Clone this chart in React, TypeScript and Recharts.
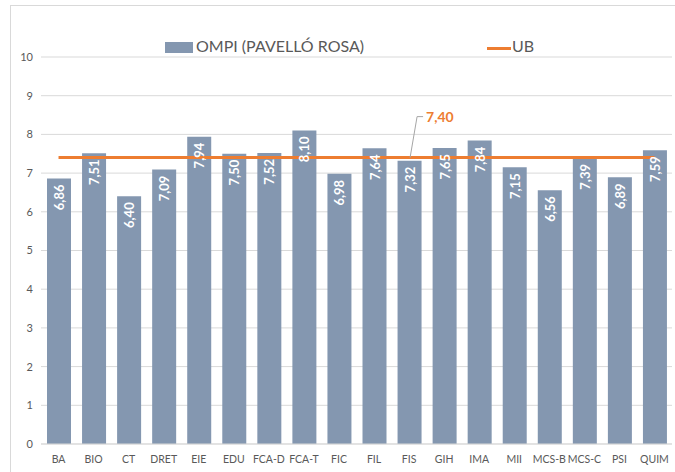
import { ComposedChart, Bar, Line, XAxis, YAxis, CartesianGrid, Legend, LabelList } from 'recharts';

const categories = ['BA', 'BIO', 'CT', 'DRET', 'EIE', 'EDU', 'FCA-D', 'FCA-T', 'FIC', 'FIL', 'FIS', 'GIH', 'IMA', 'MII', 'MCS-B', 'MCS-C', 'PSI', 'QUIM'];
const ompiValues = [6.86, 7.51, 6.4, 7.09, 7.94, 7.5, 7.52, 8.1, 6.98, 7.64, 7.32, 7.65, 7.84, 7.15, 6.56, 7.39, 6.89, 7.59];
const ubValue = 7.4;
const ubLabelIndex = 10;
const yTicks = [0, 1, 2, 3, 4, 5, 6, 7, 8, 9, 10];

const data = categories.map((name, i) => ({ name, ompi: ompiValues[i], ub: ubValue }));

const FONT = 'Lato, "Open Sans", sans-serif';
const BAR_COLOR = '#8497B0';
const LINE_COLOR = '#ED7D31';
const fmt = (v: number) => v.toFixed(2).replace('.', ',');

function BarValueLabel(props: any) {
  const { x, y, width, value } = props;
  return (
    <text
      x={0}
      y={0}
      transform={`translate(${x + width / 2},${y + 6}) rotate(-90)`}
      textAnchor="end"
      dominantBaseline="central"
      fill="#fff"
      fontSize={13}
      fontWeight={700}
      fontFamily={FONT}
    >
      {fmt(value)}
    </text>
  );
}

function UbLabel(props: any) {
  const { x, y, index, value } = props;
  if (index !== ubLabelIndex) return null;
  return (
    <g>
      <polyline
        points={`${x + 1},${y} ${x + 8},${y - 41} ${x + 14},${y - 41}`}
        fill="none"
        stroke="#A6A6A6"
        strokeWidth={1}
      />
      <text x={x + 17} y={y - 36} fill={LINE_COLOR} fontSize={14} fontWeight={700} fontFamily={FONT}>
        {fmt(value)}
      </text>
    </g>
  );
}

function LegendBox() {
  return (
    <div style={{ position: 'relative', height: 20, fontFamily: FONT, fontSize: 16, color: '#595959' }}>
      <div style={{ position: 'absolute', left: 165, top: 5, width: 28, height: 11, background: BAR_COLOR }} />
      <span style={{ position: 'absolute', left: 196, top: -1, whiteSpace: 'nowrap' }}>OMPI (PAVELLÓ ROSA)</span>
      <div style={{ position: 'absolute', left: 487, top: 10, width: 24, height: 3, background: LINE_COLOR }} />
      <span style={{ position: 'absolute', left: 512, top: -1 }}>UB</span>
    </div>
  );
}

export default function App() {
  return (
    <div style={{ position: 'absolute', left: 0, top: 0, width: 675, height: 472, overflow: 'hidden', background: '#fff' }}>
      <div style={{ position: 'absolute', left: 10, top: 5, width: 700, height: 500, border: '1px solid #D9D9D9' }} />
      <div style={{ position: 'absolute', left: 0, top: 0 }}>
        <ComposedChart width={675} height={472} data={data} margin={{ top: 37, right: 3, bottom: 0, left: 0 }}>
          <CartesianGrid vertical={false} stroke="#D9D9D9" />
          <XAxis
            dataKey="name"
            interval={0}
            height={28}
            tickLine={false}
            axisLine={{ stroke: '#D9D9D9' }}
            tickMargin={6}
            tick={{ fill: '#595959', fontSize: 10.5, fontFamily: FONT }}
          />
          <YAxis
            domain={[0, 10]}
            ticks={yTicks}
            width={41}
            axisLine={false}
            tickLine={false}
            tick={{ fill: '#595959', fontSize: 11, fontFamily: FONT }}
          />
          <Legend verticalAlign="top" content={<LegendBox />} wrapperStyle={{ top: 37, left: 0, width: 675, height: 20 }} />
          <Bar dataKey="ompi" fill={BAR_COLOR} barSize={24} isAnimationActive={false}>
            <LabelList dataKey="ompi" content={<BarValueLabel />} />
          </Bar>
          <Line dataKey="ub" stroke={LINE_COLOR} strokeWidth={3} dot={false} activeDot={false} isAnimationActive={false}>
            <LabelList dataKey="ub" content={<UbLabel />} />
          </Line>
        </ComposedChart>
      </div>
    </div>
  );
}
